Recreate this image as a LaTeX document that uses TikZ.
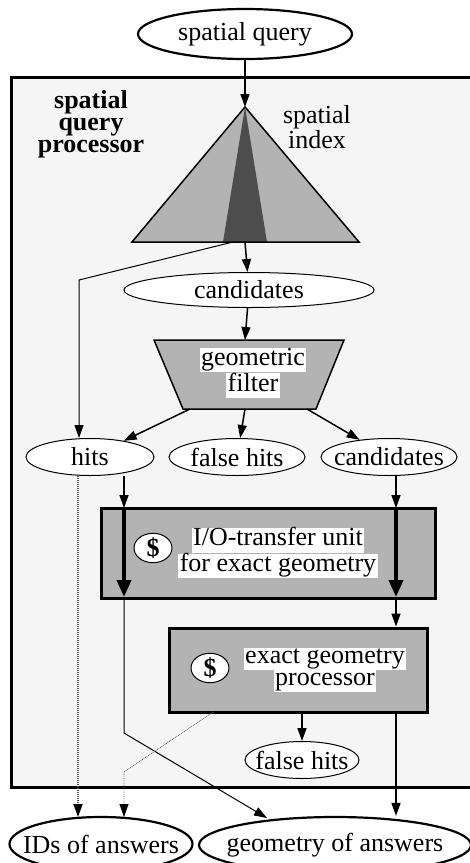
\documentclass[tikz,border=0pt]{standalone}
\usepackage{fontspec}
\setmainfont{Liberation Serif}
\usetikzlibrary{shapes.geometric,arrows.meta}
\definecolor{boxgray}{HTML}{B3B3B3}
\definecolor{darkwedge}{HTML}{4D4D4D}
\definecolor{bggray}{HTML}{F5F5F5}
\newcommand\bigfs{\fontsize{26}{22}\selectfont}
\newcommand\wb[1]{{\setlength{\fboxsep}{0pt}\colorbox{white}{\hspace{1.5pt}\strut #1\hspace{1.5pt}}}}
\newcommand\zt[1]{\makebox[0pt]{#1}}
\begin{document}
\begin{tikzpicture}[x=1pt,y=-1pt,font=\bigfs,
  ell/.style={ellipse, draw, line width=1pt, fill=white, inner sep=0pt},
  bigell/.style={ell, line width=2.2pt},
  arr/.style={line width=1.5pt, -{Triangle[length=13pt,width=9pt]}},
  thinarr/.style={line width=1pt, -{Triangle[length=13pt,width=9pt]}},
  fatarr/.style={line width=4pt, -{Triangle[length=17pt,width=14pt]}},
  proc/.style={draw, line width=3pt, fill=boxgray, inner sep=0pt},
  dollar/.style={ell, minimum width=38pt, minimum height=28pt, font=\bigfs\bfseries},
  hatch/.style={line width=2pt, black!65, dash pattern=on 1pt off 1pt, -{Triangle[length=13pt,width=9pt,color=black]}},
  fine/.style={line width=0.8pt, black!60, densely dotted, -{Triangle[length=13pt,width=9pt,color=black]}},
  lbl/.style={inner sep=0pt, align=center}]
\useasboundingbox (0,0) rectangle (470,863);
% outer processor frame
\draw[line width=3pt, fill=bggray] (11,77) rectangle (490,787);
\node[lbl, font=\fontsize{26}{22}\selectfont\bfseries] (sqp) at (91,124) {spatial\\query\\processor};
% spatial index triangle
\coordinate (apex) at (245,107);
\coordinate (tbl) at (132,242);
\coordinate (tbr) at (359,242);
\coordinate (tbase) at (245,242);
\coordinate (tleft) at (233,242);
\fill[boxgray] (apex) -- (tbl) -- (tbr) -- cycle;
\fill[darkwedge] (apex) -- (223,242) -- (267,242) -- cycle;
\draw[line width=1.5pt, line join=miter] (apex) -- (tbl) -- (tbr) -- cycle;
\node[lbl, font=\fontsize{26}{22}\selectfont] (sidx) at (317,127) {spatial\\index};
% geometric filter trapezoid
\coordinate (trtop) at (245,340);
\coordinate (trbl) at (190,409);
\coordinate (trbm) at (245,409);
\coordinate (trbr) at (307,409);
\draw[line width=1.5pt, fill=boxgray, line join=miter] (154,340) -- (344,340) -- (316,409) -- (183,409) -- cycle;
\node[lbl] (filt) at (253,373) {\wb{geometric}\\\wb{filter}};
% ellipses
\node[bigell, minimum width=214pt, minimum height=50pt] (query) at (245,34) {\zt{spatial query}};
\node[ell, minimum width=250pt, minimum height=35pt] (candA) at (249,290) {\zt{candidates}};
\node[ell, minimum width=128pt, minimum height=37pt] (hits) at (90,457) {\zt{hits}};
\node[ell, minimum width=136pt, minimum height=37pt] (fhA) at (237,457) {\zt{false hits}};
\node[ell, minimum width=136pt, minimum height=37pt] (candB) at (389,457) {\zt{candidates}};
\node[ell, minimum width=114pt, minimum height=37pt] (fhB) at (302,760) {\zt{false hits}};
\node[bigell, minimum width=183pt, minimum height=54pt] (ids) at (101,844) {\zt{IDs of answers}};
\node[bigell, minimum width=272pt, minimum height=56pt] (geo) at (335,845) {\zt{geometry of answers}};
% processing units
\node[proc, minimum width=334pt, minimum height=90pt] (io) at (268,553) {};
\node[proc, minimum width=258pt, minimum height=84pt] (ex) at (298,670) {};
\node[lbl] (iotext) at (278,553) {\wb{I/O-transfer unit}\\\wb{for exact geometry}};
\node[lbl] (extext) at (325,670) {\wb{exact geometry}\\\wb{processor}};
\node[dollar] (d1) at (153,548) {\zt{\$}};
\node[dollar] (d2) at (210,668) {\zt{\$}};
% helper coordinates
\coordinate (hbend) at (79,280);
\coordinate (ioL) at (124,508);
\coordinate (ioR) at (396,508);
\coordinate (ioLb) at (124,597);
\coordinate (ioRb) at (396,597);
\coordinate (gbend) at (124,733);
\coordinate (gtip) at (267,818);
\coordinate (idL) at (78,817);
\coordinate (idR) at (124,817);
\coordinate (exBL) at (213,712);
\coordinate (dbend) at (124,772);
% connectors
\draw[arr] (query) -- (apex);
\draw[arr] (tbase) -- (candA);
\draw[thinarr] (tleft) -- (hbend) -- (hbend |- hits.north);
\draw[arr] (candA) -- (trtop);
\draw[arr] (trbl) -- (hits);
\draw[arr] (trbm) -- (fhA);
\draw[arr] (trbr) -- (candB);
\draw[arr] (hits.south -| ioL) -- (ioL);
\draw[arr] (candB.south -| ioR) -- (ioR);
\draw[fatarr] (ioL) -- (ioLb);
\draw[fatarr] (ioR) -- (ioRb);
\draw[arr] (io.south -| ioR) -- (ex.north -| ioR);
\draw[thinarr] (io.south -| ioL) -- (gbend) -- (gtip);
\draw[arr] (ex.south -| fhB) -- (fhB);
\draw[arr] (ex.south -| ioR) -- (geo.north -| ioR);
\draw[hatch] (hits.south -| idL) -- (idL);
\draw[fine] (exBL) -- (dbend) -- (idR);
\end{tikzpicture}
\end{document}
